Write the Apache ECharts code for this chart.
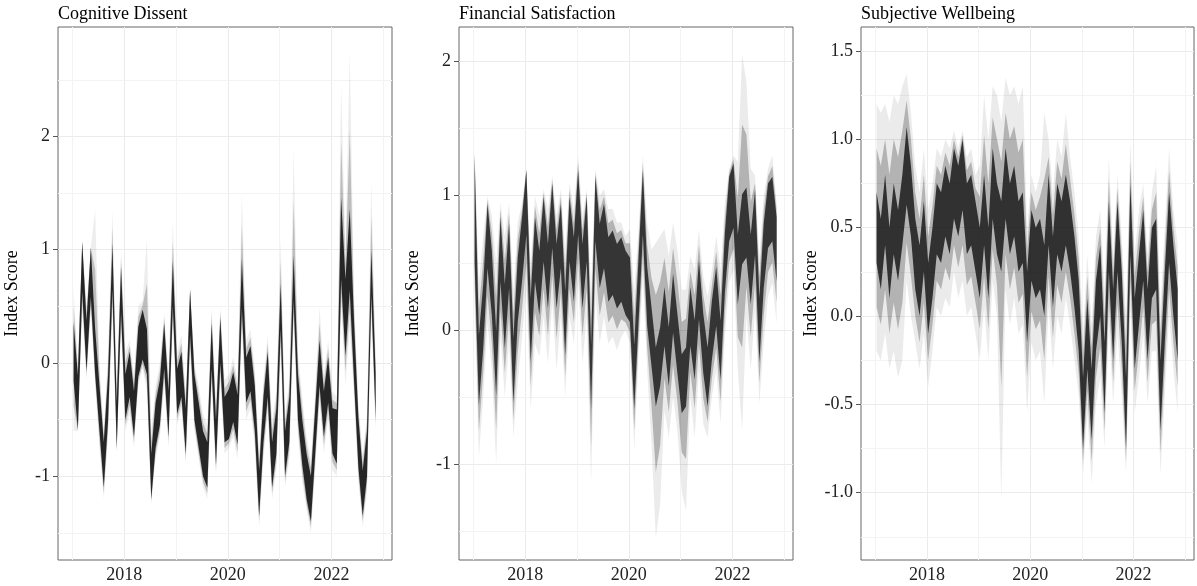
<!DOCTYPE html>
<html>
<head>
<meta charset="utf-8">
<title>Index Score</title>
<script src="https://cdn.jsdelivr.net/npm/echarts@6/dist/echarts.min.js"></script>
<style>
    html, body {margin: 0; padding: 0; background: #fff;}
    #main {width: 1197px; height: 586px;}
</style>
</head>
<body>
<div id="main"></div>
<script>
// monthly estimates, Jan 2017 .. Nov 2022
var startYear = 2017;

// Cognitive Dissent
var cdMid = [0.1, -0.35, 0.85, 0.15, 0.8, 0.1, -0.4, -0.9, -0.3, 0.85,
    -0.55, 0.65, -0.3, -0.1, -0.45, 0.1, 0.25, 0.1, -1.0, -0.55,
    -0.35, 0.15, -0.45, 0.7, -0.25, -0.1, -0.6, 0.45, -0.3, -0.55,
    -0.8, -0.9, 0.15, -0.7, 0.2, -0.5, -0.45, -0.3, -0.5, 0.7,
    -0.15, -0.05, -0.4, -1.15, -0.5, -0.1, -0.9, -0.6, 0.5, -0.8,
    -0.5, 0.75, -0.3, -0.7, -1.0, -1.2, -0.6, 0.0, -0.45, -0.15,
    -0.6, -0.65, 1.1, 0.4, 1.0, 0.1, -0.7, -1.15, -0.8, 0.8, -0.3];
var cdSpread = [0.26, 0.24, 0.22, 0.22, 0.22, 0.2, 0.2, 0.2, 0.2, 0.2,
    0.2, 0.2, 0.2, 0.2, 0.2, 0.22, 0.22, 0.2, 0.2, 0.2,
    0.2, 0.2, 0.2, 0.2, 0.2, 0.2, 0.2, 0.2, 0.2, 0.2,
    0.2, 0.2, 0.2, 0.2, 0.2, 0.2, 0.22, 0.22, 0.22, 0.22,
    0.2, 0.2, 0.2, 0.2, 0.2, 0.2, 0.2, 0.2, 0.2, 0.2,
    0.2, 0.2, 0.2, 0.2, 0.2, 0.2, 0.2, 0.2, 0.2, 0.2,
    0.2, 0.24, 0.36, 0.34, 0.36, 0.26, 0.22, 0.2, 0.2, 0.2, 0.2];
var cdHi = [0.65, 0.0, 1.05, 0.5, 1.0, 1.35, 0.0, -0.6, 0.1, 1.35,
    -0.2, 1.0, 0.1, 0.2, -0.1, 0.5, 0.55, 1.1, -0.6, -0.2,
    0.0, 0.45, -0.1, 1.25, 0.1, 0.25, -0.25, 0.65, 0.0, -0.2,
    -0.45, -0.55, 0.5, -0.35, 0.5, -0.15, -0.1, 0.05, -0.15, 1.5,
    0.2, 0.3, -0.05, -0.8, -0.15, 0.25, -0.5, -0.25, 1.1, -0.45,
    -0.15, 1.9, 0.1, -0.3, -0.65, -0.85, -0.25, 0.5, -0.1, 0.2,
    -0.25, -0.3, 2.45, 1.0, 2.75, 0.6, -0.35, -0.8, -0.45, 1.6, 0.05];
var cdLo = [-0.6, -0.6, 0.45, -0.15, 0.45, -0.2, -0.75, -1.2, -0.65, 0.45,
    -0.8, 0.3, -0.6, -0.45, -0.75, -0.2, -0.05, -0.25, -1.25, -0.85,
    -0.65, -0.2, -0.75, 0.35, -0.55, -0.4, -0.9, 0.1, -0.6, -0.85,
    -1.1, -1.2, -0.2, -1.0, -0.15, -0.8, -0.75, -0.65, -0.85, 0.3,
    -0.5, -0.4, -0.75, -1.45, -0.85, -0.45, -1.2, -0.95, 0.1, -1.1,
    -0.85, 0.35, -0.65, -1.05, -1.3, -1.5, -0.95, -0.35, -0.8, -0.5,
    -0.95, -1.0, 0.5, -0.2, 0.3, -0.3, -1.05, -1.45, -1.15, 0.4, -0.6];

// Financial Satisfaction
var fsMid = [0.9, -0.3, 0.1, 0.7, 0.35, -0.25, 0.6, 0.1, 0.55, -0.3,
    0.3, 0.6, 0.95, 0.0, 0.6, 0.35, 0.75, 0.4, 0.85, 0.4,
    0.7, 0.05, 0.75, 0.45, 0.95, 0.4, 0.75, -0.35, 0.9, 0.55,
    0.7, 0.45, 0.5, 0.4, 0.45, 0.35, 0.3, -0.35, 0.3, 0.95,
    0.25, -0.05, -0.35, -0.2, 0.1, -0.2, 0.2, -0.1, -0.4, -0.35,
    0.1, -0.15, 0.3, -0.1, -0.35, 0.0, 0.25, -0.15, 0.5, 0.9,
    1.0, 0.45, 0.75, 0.8, 0.45, 0.8, 0.0, 0.55, 0.85, 0.9, 0.6];
var fsSpread = [0.4, 0.26, 0.24, 0.24, 0.24, 0.24, 0.24, 0.24, 0.24, 0.24,
    0.24, 0.24, 0.24, 0.24, 0.24, 0.24, 0.24, 0.24, 0.24, 0.24,
    0.24, 0.24, 0.24, 0.24, 0.24, 0.24, 0.24, 0.24, 0.24, 0.24,
    0.24, 0.24, 0.24, 0.24, 0.24, 0.24, 0.24, 0.24, 0.24, 0.24,
    0.22, 0.22, 0.22, 0.22, 0.22, 0.22, 0.22, 0.22, 0.22, 0.22,
    0.22, 0.22, 0.22, 0.22, 0.22, 0.22, 0.22, 0.22, 0.22, 0.24,
    0.24, 0.26, 0.26, 0.26, 0.26, 0.24, 0.24, 0.24, 0.24, 0.24, 0.24];
var fsHi = [1.35, 0.35, 0.7, 1.0, 0.85, 0.5, 0.95, 0.7, 0.95, 0.3,
    0.8, 0.95, 1.2, 0.5, 1.0, 0.85, 1.05, 0.9, 1.15, 0.85,
    1.05, 0.6, 1.1, 0.9, 1.3, 0.85, 1.05, 0.3, 1.2, 1.0,
    1.05, 0.9, 0.9, 0.8, 0.8, 0.7, 0.75, 0.3, 0.75, 1.3,
    0.8, 0.6, 0.65, 0.7, 0.75, 0.55, 0.8, 0.6, 0.3, 0.3,
    0.55, 0.45, 0.75, 0.4, 0.25, 0.45, 0.7, 0.45, 0.95, 1.2,
    1.3, 1.25, 2.05, 1.85, 1.2, 1.15, 0.55, 1.0, 1.2, 1.3, 0.95];
var fsLo = [0.2, -0.95, -0.5, 0.05, -0.3, -1.0, -0.05, -0.5, -0.1, -0.8,
    -0.4, -0.05, 0.3, -0.6, -0.1, -0.2, 0.1, -0.25, 0.2, -0.3,
    0.1, -0.5, 0.1, -0.1, 0.35, -0.25, 0.1, -1.15, 0.25, -0.1,
    0.1, -0.1, -0.05, -0.15, -0.05, 0.0, -0.1, -0.9, -0.2, 0.4,
    -0.3, -0.85, -1.55, -1.3, -0.6, -0.8, -0.5, -0.75, -1.2, -1.35,
    -0.5, -0.8, -0.3, -0.7, -0.8, -0.5, -0.3, -0.7, -0.05, 0.35,
    0.45, -0.3, -0.75, 0.1, -0.3, 0.15, -0.55, -0.1, 0.25, 0.35, 0.05];

// Subjective Wellbeing
var swMid = [0.5, 0.35, 0.6, 0.3, 0.55, 0.4, 0.6, 0.85, 0.65, 0.35,
    0.2, 0.45, 0.1, 0.3, 0.55, 0.5, 0.65, 0.55, 0.75, 0.65,
    0.8, 0.55, 0.6, 0.45, 0.3, 0.6, 0.3, 0.75, 0.55, 0.45,
    0.75, 0.55, 0.65, 0.45, 0.5, 0.05, 0.4, 0.3, 0.35, 0.2,
    0.6, 0.25, 0.55, 0.45, 0.6, 0.45, 0.25, 0.0, -0.55, -0.1,
    -0.5, 0.0, 0.2, -0.35, 0.45, -0.05, 0.45, 0.05, -0.55, 0.55,
    -0.1, 0.15, 0.4, -0.05, 0.3, 0.35, -0.45, 0.05, 0.5, 0.2, -0.05];
var swSpread = [0.2, 0.2, 0.2, 0.2, 0.2, 0.2, 0.2, 0.22, 0.2, 0.2,
    0.2, 0.2, 0.2, 0.2, 0.2, 0.2, 0.2, 0.2, 0.2, 0.2,
    0.2, 0.2, 0.2, 0.2, 0.2, 0.2, 0.2, 0.2, 0.2, 0.2,
    0.2, 0.2, 0.2, 0.2, 0.2, 0.2, 0.2, 0.2, 0.2, 0.2,
    0.2, 0.2, 0.2, 0.2, 0.2, 0.2, 0.2, 0.2, 0.2, 0.2,
    0.2, 0.2, 0.2, 0.2, 0.2, 0.2, 0.2, 0.2, 0.2, 0.2,
    0.2, 0.2, 0.2, 0.2, 0.2, 0.2, 0.2, 0.2, 0.2, 0.2, 0.2];
var swHi = [1.2, 1.15, 1.2, 1.1, 1.25, 1.2, 1.3, 1.37, 1.15, 0.85,
    0.7, 0.95, 0.6, 0.75, 0.95, 0.9, 1.0, 0.95, 1.05, 0.95,
    1.05, 0.9, 0.95, 0.8, 0.85, 1.25, 1.0, 1.3, 1.25, 1.1,
    1.35, 1.25, 1.3, 1.2, 1.3, 0.5, 0.8, 0.7, 0.8, 1.15,
    1.0, 0.7, 1.0, 0.9, 1.15, 0.9, 0.7, 0.45, -0.1, 0.35,
    -0.05, 0.45, 0.6, 0.15, 0.9, 0.35, 0.8, 0.45, 0.0, 1.0,
    0.35, 0.6, 0.75, 0.35, 0.7, 0.85, 0.05, 0.5, 0.95, 0.6, 0.4];
var swLo = [-0.2, -0.25, -0.1, -0.3, -0.2, -0.35, -0.25, 0.2, 0.0, -0.15,
    -0.3, -0.1, -0.4, -0.2, 0.05, 0.0, 0.1, 0.05, 0.25, 0.1,
    0.2, 0.0, 0.05, -0.1, -0.25, 0.05, -0.25, 0.2, 0.0, -1.05,
    0.15, -0.05, 0.1, -0.1, -0.05, -0.55, -0.15, -0.25, -0.2, -0.5,
    0.05, -0.3, 0.0, -0.1, 0.1, -0.05, -0.25, -0.45, -0.9, -0.55,
    -0.95, -0.5, -0.35, -0.75, -0.05, -0.5, -0.1, -0.45, -0.9, 0.05,
    -0.55, -0.35, -0.1, -0.5, -0.2, -0.2, -0.9, -0.45, 0.0, -0.3, -0.55];

// axis breaks
var xMajor = [2018, 2020, 2022];
var xMinor = [2017, 2019, 2021, 2023];
var cdTicks = [-1, 0, 1, 2];
var cdMinor = [-1.5, -0.5, 0.5, 1.5, 2.5];
var fsTicks = [-1, 0, 1, 2];
var fsMinor = [-1.5, -0.5, 0.5, 1.5];
var swTicks = [-1.0, -0.5, 0.0, 0.5, 1.0, 1.5];
var swMinor = [-1.25, -0.75, -0.25, 0.25, 0.75, 1.25];

var months = [];
for (var i = 0; i < cdMid.length; i++) {
    months.push(startYear + (i + 0.25) / 12);
}

var font = 'Liberation Serif';
var panels = [
    {title: 'Cognitive Dissent', mid: cdMid, spread: cdSpread, lo: cdLo, hi: cdHi,
        ticks: cdTicks, minor: cdMinor, yMin: -1.739, yMax: 2.966, digits: 0, left: 58, width: 334,
        tail: 'rgba(0,0,0,0.07)', halo: 'rgba(0,0,0,0.2)', core: 'rgba(26,26,26,0.93)'},
    {title: 'Financial Satisfaction', mid: fsMid, spread: fsSpread, lo: fsLo, hi: fsHi,
        ticks: fsTicks, minor: fsMinor, yMin: -1.713, yMax: 2.256, digits: 0, left: 459, width: 334,
        tail: 'rgba(0,0,0,0.08)', halo: 'rgba(0,0,0,0.24)', core: 'rgba(26,26,26,0.82)'},
    {title: 'Subjective Wellbeing', mid: swMid, spread: swSpread, lo: swLo, hi: swHi,
        ticks: swTicks, minor: swMinor, yMin: -1.381, yMax: 1.636, digits: 1, left: 861, width: 333,
        tail: 'rgba(0,0,0,0.08)', halo: 'rgba(0,0,0,0.24)', core: 'rgba(26,26,26,0.85)'}
];

var grid = [], xAxis = [], yAxis = [], title = [], series = [];

function gridLines(p) {
    var data = [];
    xMajor.forEach(function (v) { data.push({xAxis: v, lineStyle: {color: '#ebebeb', width: 1}}); });
    xMinor.forEach(function (v) { data.push({xAxis: v, lineStyle: {color: '#f3f3f3', width: 1}}); });
    p.ticks.forEach(function (v) { data.push({yAxis: v, lineStyle: {color: '#ebebeb', width: 1}}); });
    p.minor.forEach(function (v) { data.push({yAxis: v, lineStyle: {color: '#f3f3f3', width: 1}}); });
    return {
        silent: true,
        z: 1,
        symbol: ['none', 'none'],
        label: {show: false},
        lineStyle: {type: 'solid'},
        animation: false,
        data: data
    };
}

// polygon between two edges, through the axis scales
function bandPolygon(api, upperEdge, lowerEdge, fill) {
    var pts = [];
    for (var i = 0; i < months.length; i++) {
        pts.push(api.coord([months[i], upperEdge[i]]));
    }
    for (var j = months.length - 1; j >= 0; j--) {
        pts.push(api.coord([months[j], lowerEdge[j]]));
    }
    return {type: 'polygon', shape: {points: pts}, style: {fill: fill}};
}

panels.forEach(function (p, idx) {
    grid.push({left: p.left, top: 27, width: p.width, height: 533, show: true,
        borderColor: '#666', borderWidth: 1, backgroundColor: '#fff'});
    title.push({text: p.title, left: p.left, top: 5, padding: 0,
        textStyle: {fontFamily: font, fontSize: 18, fontWeight: 'normal', color: '#000'}});
    xAxis.push({
        type: 'value', gridIndex: idx, min: 2016.72, max: 2023.17,
        axisLine: {show: false},
        splitLine: {show: false},
        axisTick: {show: true, length: 5, customValues: xMajor, lineStyle: {color: '#555'}},
        axisLabel: {customValues: xMajor, margin: 6, fontFamily: font, fontSize: 18, color: '#222',
            formatter: function (v) { return String(v); }}
    });
    yAxis.push({
        type: 'value', gridIndex: idx, min: p.yMin, max: p.yMax,
        name: 'Index Score', nameLocation: 'middle', nameGap: 37, nameRotate: 90,
        nameTextStyle: {fontFamily: font, fontSize: 18, color: '#000'},
        axisLine: {show: false},
        splitLine: {show: false},
        axisTick: {show: true, length: 5, customValues: p.ticks, lineStyle: {color: '#555'}},
        axisLabel: {customValues: p.ticks, margin: 8, fontFamily: font, fontSize: 18, color: '#222',
            formatter: function (v) { return v.toFixed(p.digits); }}
    });

    // edges: outer tails, a softer halo, and the dense core of the draws
    var lo = [], cLo = [], cHi = [], hi = [], hLo = [], hHi = [], rows = [];
    for (var i = 0; i < p.mid.length; i++) {
        cLo.push(p.mid[i] - p.spread[i]);
        cHi.push(p.mid[i] + p.spread[i]);
        lo.push(Math.min(p.lo[i], cLo[i]));
        hi.push(Math.max(p.hi[i], cHi[i]));
        hLo.push((lo[i] + cLo[i]) / 2);
        hHi.push((hi[i] + cHi[i]) / 2);
        rows.push([months[i], lo[i], cLo[i], cHi[i], hi[i]]);
    }

    series.push({
        type: 'custom', xAxisIndex: idx, yAxisIndex: idx,
        silent: true, animation: false, clip: true, z: 2,
        data: rows,
        encode: {x: 0, y: [1, 2, 3, 4]},
        markLine: gridLines(p),
        renderItem: function (params, api) {
            if (params.dataIndex !== 0) return null;
            return {
                type: 'group',
                children: [
                    bandPolygon(api, hi, lo, p.tail),
                    bandPolygon(api, hHi, hLo, p.halo),
                    bandPolygon(api, cHi, cLo, p.core)
                ]
            };
        }
    });
});

var chart = echarts.init(document.getElementById('main'));
chart.setOption({
    backgroundColor: '#fff',
    animation: false,
    title: title,
    grid: grid,
    xAxis: xAxis,
    yAxis: yAxis,
    series: series
});
</script>
</body>
</html>
